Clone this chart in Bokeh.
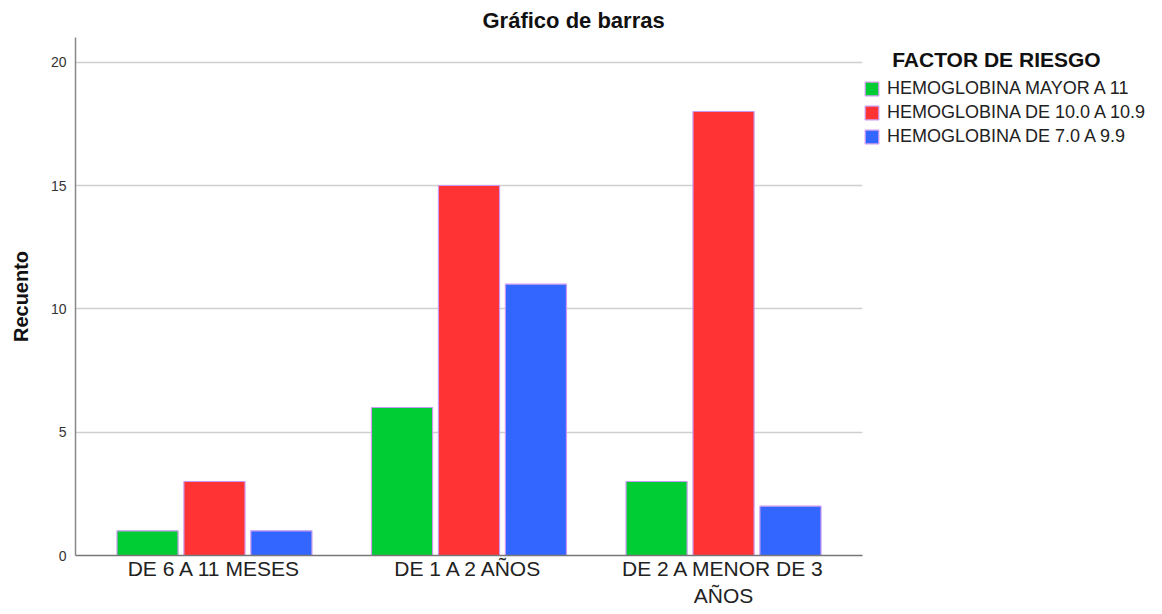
from bokeh.plotting import figure
from bokeh.models import FactorRange, Range1d, ColumnDataSource, Legend, LegendItem, FixedTicker
from bokeh.transform import dodge
from bokeh.embed import file_html
from bokeh.resources import INLINE

categories = ["DE 6 A 11 MESES", "DE 1 A 2 AÑOS", "DE 2 A MENOR DE 3\nAÑOS"]
series_names = ["HEMOGLOBINA MAYOR A 11", "HEMOGLOBINA DE 10.0 A 10.9", "HEMOGLOBINA DE 7.0 A 9.9"]
legend_title = "FACTOR DE RIESGO"
hb_mayor_11 = [1, 6, 3]
hb_10_10_9 = [3, 15, 18]
hb_7_9_9 = [1, 11, 2]
y_ticks = [0, 5, 10, 15, 20]

colors = ["#00cc33", "#ff3333", "#3366ff"]
outline = "#cc99f0"
FONT = "Liberation Sans"

src = ColumnDataSource(dict(cat=categories, s0=hb_mayor_11, s1=hb_10_10_9, s2=hb_7_9_9))

p = figure(
    x_range=FactorRange(*categories, range_padding=0.046, range_padding_units="absolute"),
    y_range=Range1d(0, 21),
    frame_width=787, frame_height=518,
    min_border_left=75, min_border_top=30, min_border_bottom=0, min_border_right=282,
    output_backend="svg", toolbar_location=None,
    title="Gráfico de barras",
)

renderers = []
offsets = [-0.263, 0.0, 0.263]
for i, off in enumerate(offsets):
    r = p.vbar(x=dodge("cat", off, range=p.x_range), top="s%d" % i, width=0.24, source=src,
               fill_color=colors[i], line_color=outline, line_width=1.2)
    renderers.append(r)

legend = Legend(items=[LegendItem(label=series_names[i], renderers=[renderers[i]]) for i in range(3)],
                location=(1, 408))
legend.title = "\u00a0" * 5 + legend_title
legend.title_text_font = FONT
legend.title_text_font_size = "21px"
legend.title_text_font_style = "bold"
legend.title_text_color = "#111111"
legend.title_standoff = 6
legend.label_text_font = FONT
legend.label_text_font_size = "18px"
legend.label_text_color = "#222222"
legend.label_standoff = 7
legend.label_height = 20
legend.glyph_width = 17
legend.glyph_height = 17
legend.spacing = 3
legend.padding = 0
legend.margin = 0
legend.border_line_color = None
legend.background_fill_color = None
p.add_layout(legend, "right")

p.title.text_font = FONT
p.title.text_font_size = "22px"
p.title.text_font_style = "bold"
p.title.text_color = "#111111"
p.title.align = "left"
p.title.offset = 407
p.title.standoff = 10

p.xgrid.grid_line_color = None
p.ygrid.grid_line_color = "#cfcfcf"
p.ygrid.grid_line_width = 1.5
p.ygrid.ticker = FixedTicker(ticks=y_ticks)
p.yaxis.ticker = FixedTicker(ticks=y_ticks)

p.yaxis.axis_label = "Recuento"
p.yaxis.axis_label_text_font = FONT
p.yaxis.axis_label_text_font_size = "20px"
p.yaxis.axis_label_text_font_style = "bold"
p.yaxis.axis_label_text_color = "#111111"
p.yaxis.axis_label_standoff = 16
p.yaxis.major_label_text_font = FONT
p.yaxis.major_label_text_font_size = "14px"
p.yaxis.major_label_text_color = "#333333"
p.yaxis.major_tick_line_color = None
p.yaxis.major_tick_out = 0
p.yaxis.major_tick_in = 0
p.yaxis.minor_tick_line_color = None
p.yaxis.major_label_standoff = 9
p.yaxis.axis_line_color = "#888888"
p.yaxis.axis_line_width = 1.5

p.xaxis.major_label_text_font = FONT
p.xaxis.major_label_text_font_size = "21px"
p.xaxis.major_label_text_color = "#222222"
p.xaxis.major_tick_line_color = None
p.xaxis.major_tick_out = 0
p.xaxis.major_tick_in = 0
p.xaxis.major_label_standoff = 1
p.xaxis.axis_line_color = "#777777"
p.xaxis.axis_line_width = 1.5

p.outline_line_color = None

open("out.html", "w").write(file_html(p, INLINE))
